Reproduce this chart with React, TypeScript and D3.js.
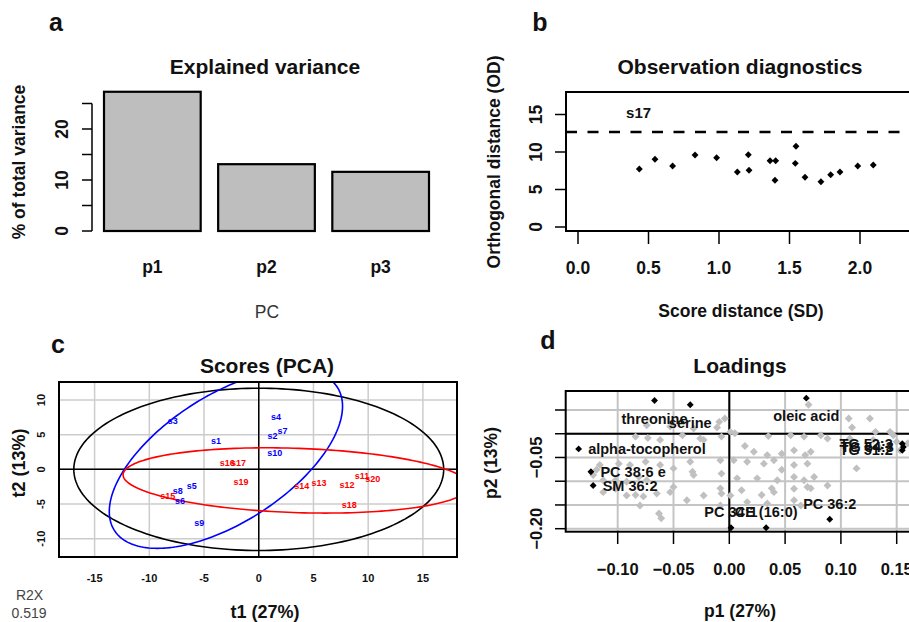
import { useEffect, useRef } from 'react'
import * as d3 from 'd3'

const FONT = '"Liberation Sans", Arial, Helvetica, sans-serif'

// a: explained variance
const PCS = ['p1', 'p2', 'p3']
const PC_VARIANCE = [27.3, 13.1, 11.6]
const VAR_TICKS = [0, 5, 10, 15, 20, 25]
const VAR_TICK_LABELS = [0, 10, 20]

// b: observation diagnostics
const OBS_SD = [0.435, 0.546, 0.671, 0.83, 0.983, 1.13, 1.208, 1.213, 1.362, 1.402, 1.397, 1.546, 1.541, 1.61, 1.723, 1.792, 1.858, 1.984, 2.094]
const OBS_OD = [7.73, 9.03, 8.13, 9.6, 9.24, 7.33, 9.64, 7.56, 8.84, 8.84, 6.23, 10.76, 8.49, 6.63, 6.04, 6.97, 7.33, 8.13, 8.27]
const OD_LIMIT = 12.67
const OUTLIER_NAMES = ['s17']
const OUTLIER_SD = [0.43]
const OUTLIER_OD = [15.3]
const SD_TICKS = [0, 0.5, 1, 1.5, 2]
const OD_TICKS = [0, 5, 10, 15]

// c: scores
const SAMPLES = ['s1', 's2', 's3', 's4', 's5', 's6', 's7', 's8', 's9', 's10', 's11', 's12', 's13', 's14', 's15', 's16', 's17', 's18', 's19', 's20']
const T1 = [-3.9, 1.25, -7.86, 1.58, -6.12, -7.19, 2.16, -7.4, -5.43, 1.46, 9.44, 8.07, 5.51, 3.93, -8.32, -2.88, -1.85, 8.28, -1.62, 10.42]
const T2 = [4.18, 4.85, 6.96, 7.58, -2.4, -4.57, 5.57, -3.03, -7.74, 2.4, -0.97, -2.2, -1.97, -2.4, -3.85, 1.0, 1.0, -5.19, -1.78, -1.44]
const SAMPLE_GROUP = [0, 0, 0, 0, 0, 0, 0, 0, 0, 0, 1, 1, 1, 1, 1, 1, 1, 1, 1, 1]
const SCORE_TICKS_X = [-15, -10, -5, 0, 5, 10, 15]
const SCORE_TICKS_Y = [-10, -5, 0, 5, 10]
// ellipses: all samples, group 1, group 2
const ELL_CX = [0, -3.0, 3.4]
const ELL_CY = [0, 1.5, -1.6]
const ELL_A = [16.9, 15.0, 15.82]
const ELL_B = [11.7, 7.4, 4.63]
const ELL_ANGLE = [0, 54, -3.2]
const ELL_COLORS = ['#000000', '#0000ff', '#ff0000']
const GROUP_COLORS = ['#0000ff', '#ff0000']

// d: loadings
const GRAY_LOADINGS: [number, number][] = [
  [-0.119, -0.076], [-0.116, -0.066], [-0.122, -0.087], [-0.113, -0.098], [-0.102, -0.098], [-0.092, -0.101],
  [-0.081, -0.091], [-0.074, -0.098], [-0.099, -0.063], [-0.089, -0.066], [-0.075, -0.059], [-0.062, -0.066],
  [-0.05, -0.073], [-0.035, -0.059], [-0.033, -0.08], [-0.008, -0.056], [-0.05, -0.112], [-0.032, -0.087],
  [-0.007, -0.084], [-0.113, -0.123], [-0.102, -0.116], [-0.092, -0.13], [-0.084, -0.129], [-0.077, -0.132],
  [-0.065, -0.126], [-0.053, -0.123], [-0.038, -0.14], [-0.023, -0.13], [-0.007, -0.126], [-0.008, -0.151],
  [-0.08, -0.151], [-0.063, -0.168], [-0.061, -0.178], [-0.008, -0.115],
  [-0.084, -0.006], [-0.062, -0.013], [-0.042, -0.003], [-0.026, -0.01], [-0.074, 0.018], [-0.073, -0.009],
  [-0.053, 0.015], [-0.032, 0.011], [-0.023, -0.013], [-0.011, 0.013], [-0.009, 0.025], [-0.004, 0.032],
  [-0.007, -0.006], [0.001, 0.004], [0.005, 0.001], [0.014, -0.026], [0.035, -0.005], [0.055, -0.003],
  [0.067, -0.006], [0.082, -0.003], [0.088, -0.01], [0.108, -0.01], [0.022, -0.038], [0.034, -0.045],
  [0.047, -0.042], [0.058, -0.035], [0.068, -0.045], [0.073, -0.038], [0.004, -0.056], [0.016, -0.059],
  [0.031, -0.063], [0.04, -0.056], [0.058, -0.066], [0.07, -0.063], [0.114, -0.073], [0.007, -0.094],
  [0.025, -0.094], [0.043, -0.098], [0.058, -0.091], [0.067, -0.098], [0.076, -0.091], [0.047, -0.076],
  [0.001, -0.13], [0.011, -0.119], [0.029, -0.129], [0.04, -0.123], [0.038, -0.115], [0.058, -0.116],
  [0.07, -0.112], [0.088, -0.109], [0.073, -0.115], [0.016, -0.144], [0.034, -0.147], [0.058, -0.14],
  [0.064, -0.151], [0.071, 0.061], [0.107, 0.032], [0.126, 0.032], [0.11, 0.013], [0.131, 0.004],
  [0.144, 0.004], [0.147, -0.003], [0.129, -0.013], [0.15, -0.017], [0.153, -0.035], [0.135, -0.031],
  [0.16, -0.02], [0.165, -0.03],
]
const LOAD_NAMES = ['threonine', 'serine', 'oleic acid', 'alpha-tocopherol', 'PC 38:6 e', 'SM 36:2', 'PC 34:1', 'CE (16:0)', 'PC 36:2', 'TG 52:3', 'TG 54:3', 'TG 51:2']
const LOAD_P1 = [-0.067, -0.035, 0.069, -0.135, -0.124, -0.122, 0.0015, 0.033, 0.09, 0.155, 0.156, 0.155]
const LOAD_P2 = [0.07, 0.061, 0.075, -0.032, -0.08, -0.109, -0.198, -0.198, -0.18, -0.021, -0.028, -0.035]
const LOAD_POS = ['below', 'below', 'below', 'right', 'right', 'right', 'above', 'above', 'above', 'left', 'left', 'left']
const LOAD_TICKS_X = [-0.1, -0.05, 0, 0.05, 0.1, 0.15]
const LOAD_TICKS_Y = [-0.2, -0.15, -0.1, -0.05, 0, 0.05]
const LOAD_TICK_LABELS_Y = [-0.2, -0.05]

export default function App() {
  const svgRef = useRef<SVGSVGElement>(null)

  useEffect(() => {
    if (!svgRef.current) return
    const svg = d3.select(svgRef.current)
    svg.selectAll('*').remove()
    svg.append('rect').attr('width', 909).attr('height', 622).attr('fill', '#fff')

    const text = (x: number, y: number, s: string, size: number, o: any = {}) => {
      const t = svg.append('text')
        .attr('font-family', FONT)
        .attr('font-size', size)
        .attr('font-weight', o.weight ?? 700)
        .attr('fill', o.fill ?? '#111')
        .attr('text-anchor', o.anchor ?? 'middle')
        .text(s)
      if (o.rotate) t.attr('transform', `translate(${x},${y}) rotate(-90)`)
      else t.attr('x', x).attr('y', y)
      if (o.dy) t.attr('dy', o.dy)
      return t
    }
    const line = (x1: number, y1: number, x2: number, y2: number, stroke = '#000', w = 1.5) =>
      svg.append('line').attr('x1', x1).attr('y1', y1).attr('x2', x2).attr('y2', y2)
        .attr('stroke', stroke).attr('stroke-width', w)
    const diamond = d3.symbol().type(d3.symbolDiamond2).size(30)
    const grayDiamond = d3.symbol().type(d3.symbolDiamond2).size(40)

    // ---------- a ----------
    text(56, 31, 'a', 25)
    text(265, 74, 'Explained variance', 21)
    const xa = d3.scaleBand().domain(PCS).range([104, 429]).paddingInner(0.153)
    const ya = d3.scaleLinear().domain([0, 25]).range([231, 103.5])
    PCS.forEach((p, i) => {
      svg.append('rect')
        .attr('x', xa(p)!).attr('y', ya(PC_VARIANCE[i]))
        .attr('width', xa.bandwidth()).attr('height', ya(0) - ya(PC_VARIANCE[i]))
        .attr('fill', '#bebebe').attr('stroke', '#000').attr('stroke-width', 2.2)
      text(xa(p)! + xa.bandwidth() / 2, 273, p, 17.5)
    })
    line(92, ya(0), 92, ya(25), '#000', 1.5)
    VAR_TICKS.forEach((t) => line(82, ya(t), 92, ya(t)))
    VAR_TICK_LABELS.forEach((t) => text(68, ya(t), String(t), 17.5, { rotate: true }))
    text(25, 162, '% of total variance', 17.5, { rotate: true })
    text(267, 318, 'PC', 17.5, { weight: 400, fill: '#333' })

    // ---------- b ----------
    text(540, 31, 'b', 25)
    text(740, 74, 'Observation diagnostics', 21)
    const xb = d3.scaleLinear().domain([0, 2.5]).range([578, 930.5])
    const yb = d3.scaleLinear().domain([0, 15]).range([227, 114.5])
    svg.append('rect').attr('x', 566).attr('y', 92).attr('width', 400).attr('height', 139)
      .attr('fill', 'none').attr('stroke', '#000').attr('stroke-width', 2)
    OD_TICKS.forEach((t) => {
      line(555, yb(t), 566, yb(t))
      text(542, yb(t), String(t), 17.5, { rotate: true })
    })
    SD_TICKS.forEach((t) => {
      line(xb(t), 232, xb(t), 244)
      text(xb(t), 274, d3.format('.1f')(t), 17.5)
    })
    line(566, yb(OD_LIMIT), 930, yb(OD_LIMIT), '#000', 2.3).attr('stroke-dasharray', '11,10.5')
    OBS_SD.forEach((sd, i) => {
      svg.append('path').attr('d', diamond()!)
        .attr('transform', `translate(${xb(sd)},${yb(OBS_OD[i])})`).attr('fill', '#000')
    })
    OUTLIER_NAMES.forEach((n, i) => text(xb(OUTLIER_SD[i]), yb(OUTLIER_OD[i]), n, 15, { dy: '0.35em' }))
    text(500, 162, 'Orthogonal distance (OD)', 17.5, { rotate: true })
    text(741, 317, 'Score distance (SD)', 17.5)

    // ---------- c ----------
    text(58, 353, 'c', 25)
    text(267, 373, 'Scores (PCA)', 21)
    const xc = d3.scaleLinear().domain([-15, 15]).range([94.6, 422.9])
    const yc = d3.scaleLinear().domain([-10, 10]).range([538.7, 400])
    const cBox = { x0: 59, x1: 457, y0: 382, y1: 557 }
    svg.append('clipPath').attr('id', 'clip-c').append('rect')
      .attr('x', cBox.x0).attr('y', cBox.y0).attr('width', cBox.x1 - cBox.x0).attr('height', cBox.y1 - cBox.y0)
    SCORE_TICKS_X.forEach((t) => {
      line(xc(t), cBox.y0, xc(t), cBox.y1, '#cccccc', 1.5)
      text(xc(t), 581.5, String(t), 11)
    })
    SCORE_TICKS_Y.forEach((t) => {
      line(cBox.x0, yc(t), cBox.x1, yc(t), '#cccccc', 1.5)
      text(45, yc(t), String(t), 11, { rotate: true })
    })
    line(xc(0), cBox.y0, xc(0), cBox.y1, '#000', 1.5)
    line(cBox.x0, yc(0), cBox.x1, yc(0), '#000', 1.5)
    const gc = svg.append('g').attr('clip-path', 'url(#clip-c)')
    const ellLine = d3.line<[number, number]>().x((d) => xc(d[0])).y((d) => yc(d[1])).curve(d3.curveLinearClosed)
    ELL_CX.forEach((cx, k) => {
      const th = (ELL_ANGLE[k] * Math.PI) / 180
      const pts = d3.range(0, 2 * Math.PI, Math.PI / 100).map((t) => {
        const u = ELL_A[k] * Math.cos(t)
        const v = ELL_B[k] * Math.sin(t)
        return [cx + u * Math.cos(th) - v * Math.sin(th), ELL_CY[k] + u * Math.sin(th) + v * Math.cos(th)] as [number, number]
      })
      gc.append('path').attr('d', ellLine(pts)!).attr('fill', 'none')
        .attr('stroke', ELL_COLORS[k]).attr('stroke-width', 1.6)
    })
    SAMPLES.forEach((s, i) => {
      gc.append('text').attr('x', xc(T1[i])).attr('y', yc(T2[i])).attr('dy', '0.35em')
        .attr('text-anchor', 'middle').attr('font-family', FONT).attr('font-size', 9)
        .attr('font-weight', 700).attr('fill', GROUP_COLORS[SAMPLE_GROUP[i]]).text(s)
    })
    svg.append('rect').attr('x', cBox.x0).attr('y', cBox.y0)
      .attr('width', cBox.x1 - cBox.x0).attr('height', cBox.y1 - cBox.y0)
      .attr('fill', 'none').attr('stroke', '#000').attr('stroke-width', 2)
    text(25, 463, 't2 (13%)', 18, { rotate: true })
    text(265, 618, 't1 (27%)', 18)
    text(29.5, 600, 'R2X', 14, { weight: 400, fill: '#444' })
    text(29, 618, '0.519', 14, { weight: 400, fill: '#444' })

    // ---------- d ----------
    text(548, 349, 'd', 25)
    text(740, 373, 'Loadings', 21)
    const xd = d3.scaleLinear().domain([-0.1, 0.15]).range([617.7, 896.7])
    const yd = d3.scaleLinear().domain([-0.2, 0.05]).range([528.7, 410])
    const dBox = { x0: 565.7, x1: 960, y0: 391, y1: 531.7 }
    LOAD_TICKS_X.forEach((t) => line(xd(t), dBox.y0, xd(t), dBox.y1, '#c4c4c4', 2))
    LOAD_TICKS_Y.forEach((t) => line(dBox.x0, yd(t), dBox.x1, yd(t), '#c4c4c4', 2))
    line(xd(0), dBox.y0, xd(0), dBox.y1, '#000', 2)
    line(dBox.x0, yd(0), dBox.x1, yd(0), '#000', 2)
    GRAY_LOADINGS.forEach(([p1, p2]) => {
      svg.append('path').attr('d', grayDiamond()!)
        .attr('transform', `translate(${xd(p1)},${yd(p2)})`).attr('fill', '#c0c0c0')
    })
    LOAD_NAMES.forEach((n, i) => {
      const px = xd(LOAD_P1[i])
      const py = yd(LOAD_P2[i])
      svg.append('path').attr('d', diamond()!).attr('transform', `translate(${px},${py})`).attr('fill', '#000')
      const pos = LOAD_POS[i]
      let tx = px, ty = py, anchor = 'middle'
      if (pos === 'below') ty = py + 18
      if (pos === 'above') ty = py - 15.5
      if (pos === 'right') { tx = px + 9.5; anchor = 'start' }
      if (pos === 'left') { tx = px - 9.5; anchor = 'end' }
      text(tx, ty, n, 14.5, { anchor, dy: '0.35em' })
    })
    svg.append('rect').attr('x', dBox.x0).attr('y', dBox.y0)
      .attr('width', dBox.x1 - dBox.x0).attr('height', dBox.y1 - dBox.y0)
      .attr('fill', 'none').attr('stroke', '#000').attr('stroke-width', 2)
    LOAD_TICKS_X.forEach((t) => {
      line(xd(t), dBox.y1, xd(t), 544)
      text(xd(t), 575, d3.format('.2f')(t), 16.5)
    })
    LOAD_TICKS_Y.forEach((t) => line(555, yd(t), dBox.x0, yd(t)))
    LOAD_TICK_LABELS_Y.forEach((t) => text(541.7, yd(t), d3.format('.2f')(t), 16.5, { rotate: true }))
    text(497, 463, 'p2 (13%)', 17.5, { rotate: true })
    text(740, 617, 'p1 (27%)', 17.5)
  }, [])

  return (
    <svg
      ref={svgRef}
      width={909}
      height={622}
      style={{ position: 'absolute', left: 0, top: 0, display: 'block' }}
    />
  )
}
